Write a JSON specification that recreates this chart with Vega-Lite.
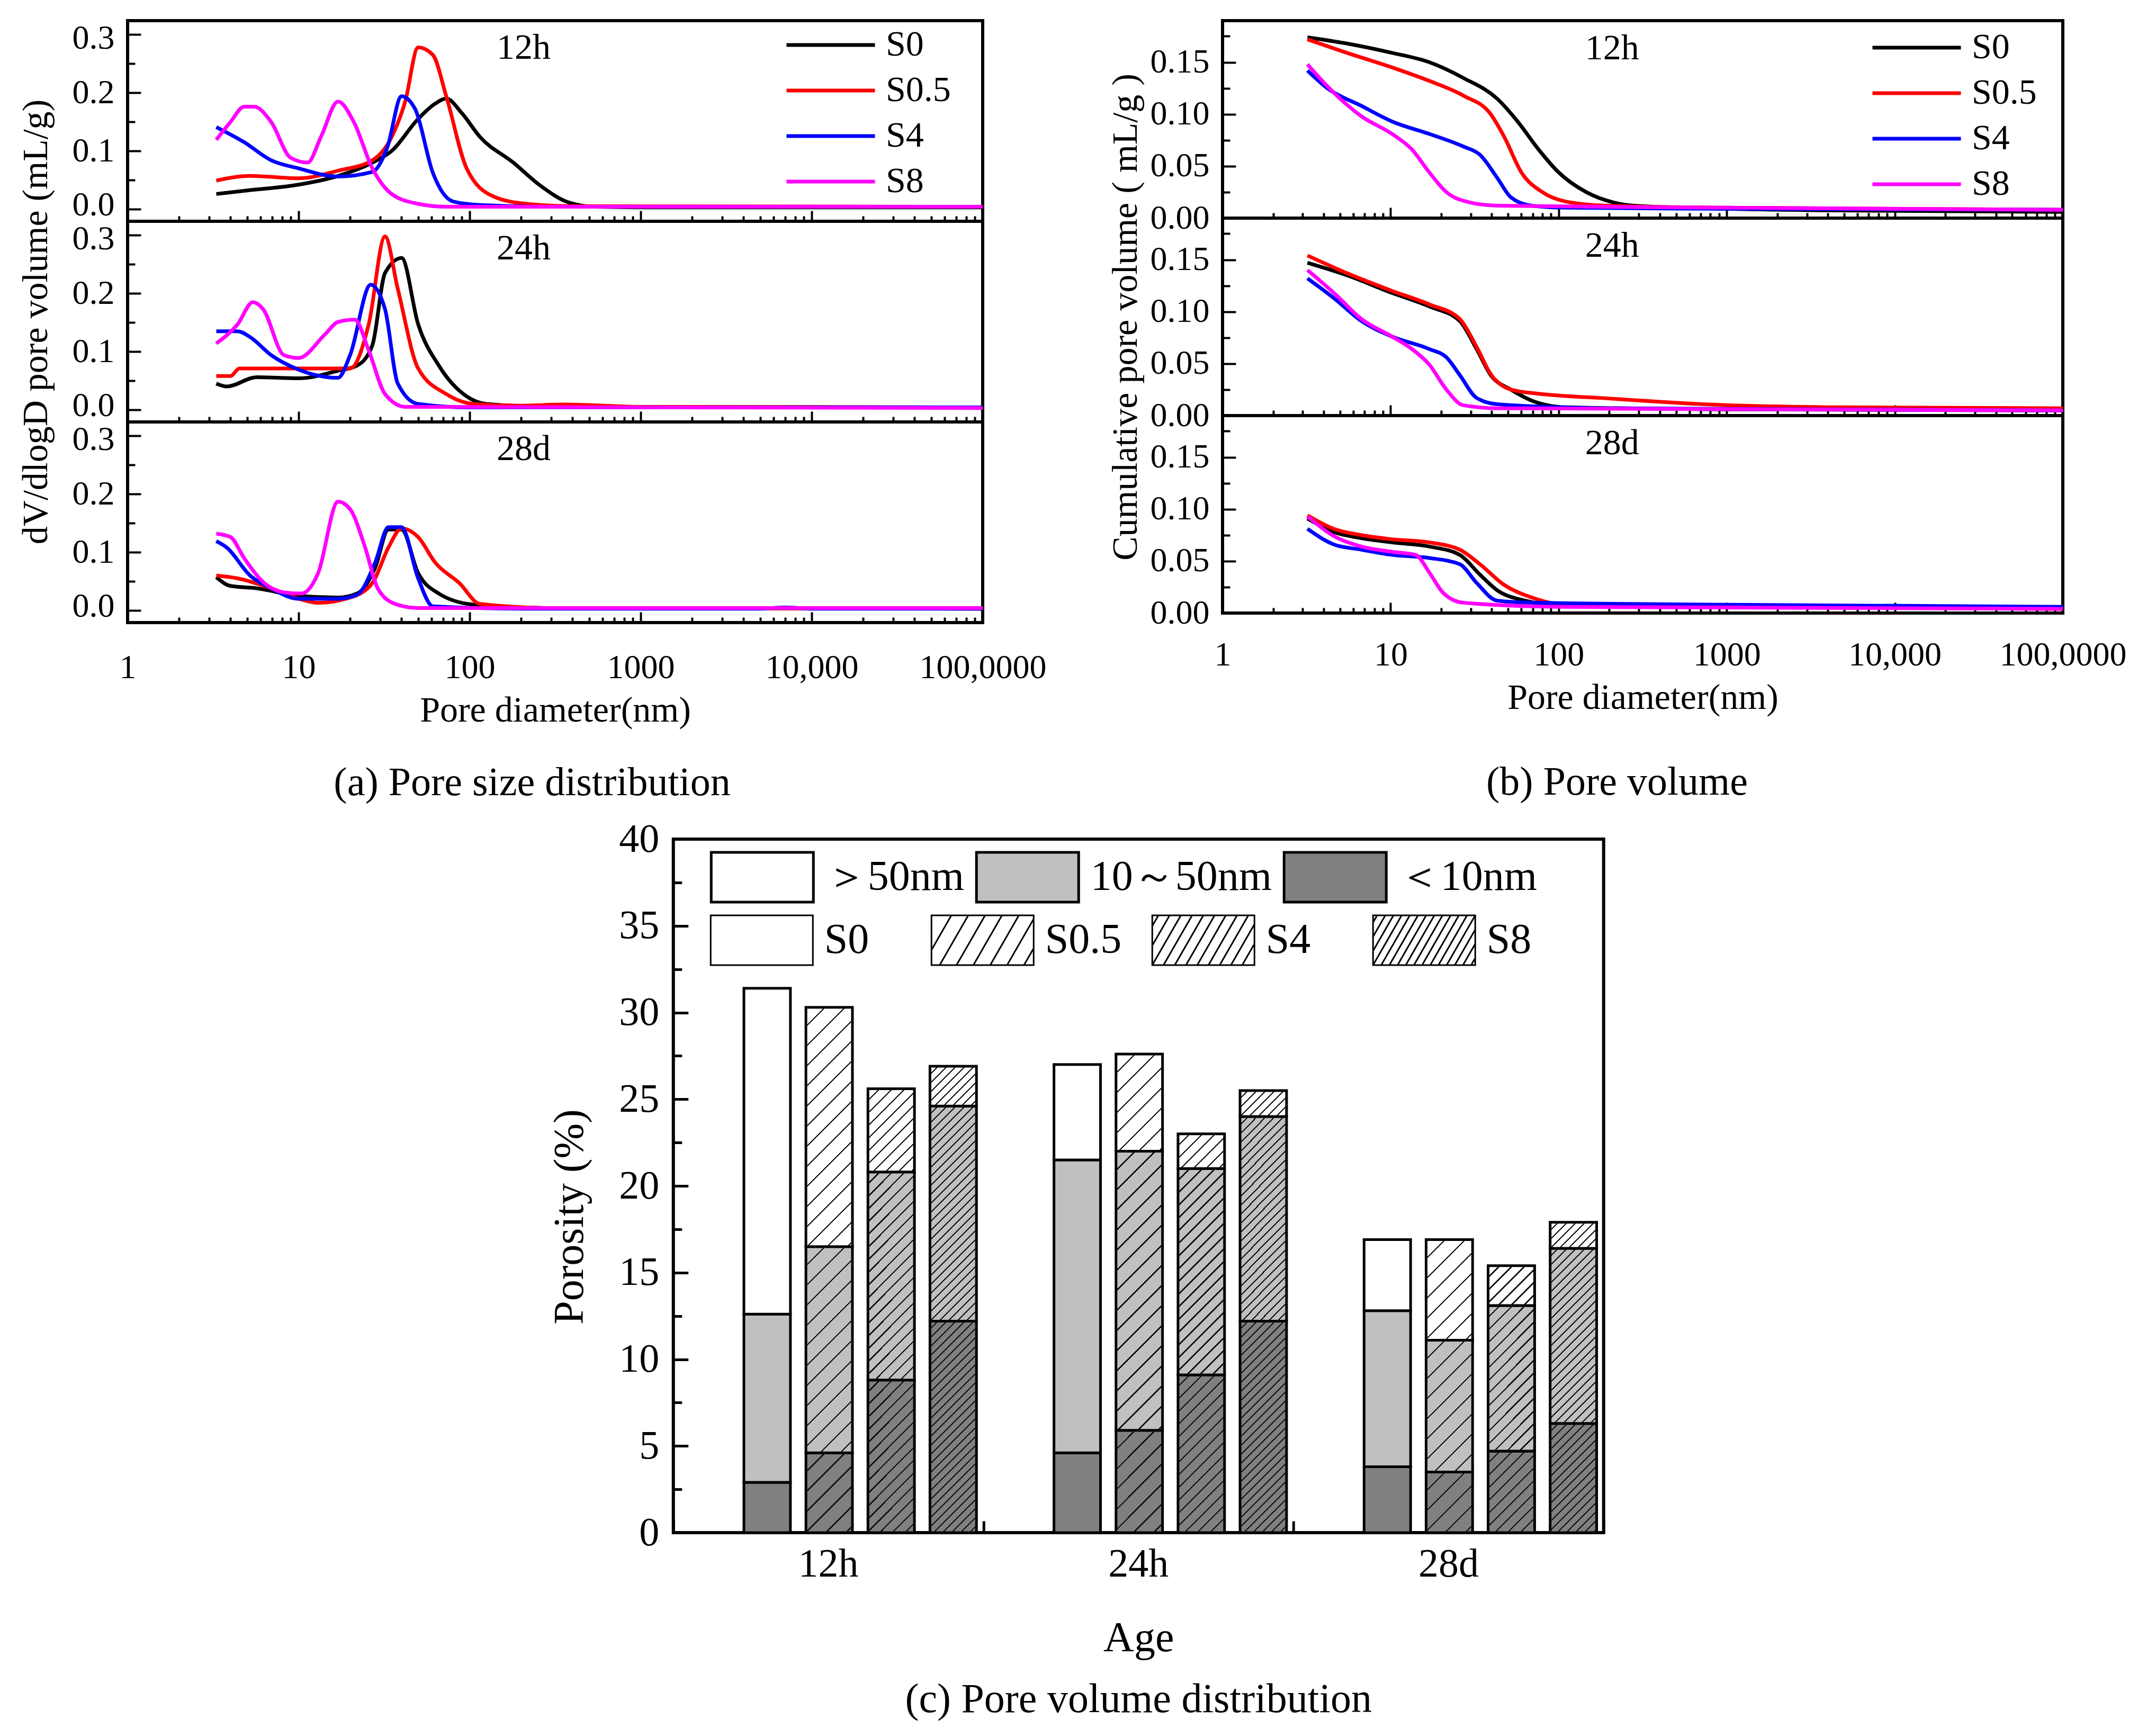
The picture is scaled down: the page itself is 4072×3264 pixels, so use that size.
{
  "$schema": "https://vega.github.io/schema/vega-lite/v6.json",
  "background": "white",
  "padding": {"left": 30, "top": 36, "right": 0, "bottom": 0},
  "config": {
    "font": "Liberation Serif",
    "view": {"stroke": "black", "strokeWidth": 6},
    "axis": {"domain": false, "grid": false, "labelFont": "Liberation Serif", "titleFont": "Liberation Serif", "labelColor": "black", "titleColor": "black", "titleFontWeight": "normal", "tickColor": "black", "tickWidth": 4, "labelFlush": false, "labelOverlap": false, "labelBound": false, "labelLimit": 1000, "titleLimit": 3000},
    "legend": {"labelFont": "Liberation Serif", "labelColor": "black", "labelLimit": 1000},
    "title": {"font": "Liberation Serif", "fontWeight": "normal", "color": "black", "anchor": "middle"}
  },
  "params": [
    {"name": "hatch05", "value": [
      {"offset": 0, "color": "rgba(0,0,0,0)"},
      {"offset": 0.0567, "color": "rgba(0,0,0,0)"}, {"offset": 0.0567, "color": "#111"}, {"offset": 0.0625, "color": "#111"}, {"offset": 0.0625, "color": "rgba(0,0,0,0)"},
      {"offset": 0.1192, "color": "rgba(0,0,0,0)"}, {"offset": 0.1192, "color": "#111"}, {"offset": 0.125, "color": "#111"}, {"offset": 0.125, "color": "rgba(0,0,0,0)"},
      {"offset": 0.1817, "color": "rgba(0,0,0,0)"}, {"offset": 0.1817, "color": "#111"}, {"offset": 0.1875, "color": "#111"}, {"offset": 0.1875, "color": "rgba(0,0,0,0)"},
      {"offset": 0.2442, "color": "rgba(0,0,0,0)"}, {"offset": 0.2442, "color": "#111"}, {"offset": 0.25, "color": "#111"}, {"offset": 0.25, "color": "rgba(0,0,0,0)"},
      {"offset": 0.3067, "color": "rgba(0,0,0,0)"}, {"offset": 0.3067, "color": "#111"}, {"offset": 0.3125, "color": "#111"}, {"offset": 0.3125, "color": "rgba(0,0,0,0)"},
      {"offset": 0.3692, "color": "rgba(0,0,0,0)"}, {"offset": 0.3692, "color": "#111"}, {"offset": 0.375, "color": "#111"}, {"offset": 0.375, "color": "rgba(0,0,0,0)"},
      {"offset": 0.4317, "color": "rgba(0,0,0,0)"}, {"offset": 0.4317, "color": "#111"}, {"offset": 0.4375, "color": "#111"}, {"offset": 0.4375, "color": "rgba(0,0,0,0)"},
      {"offset": 0.4942, "color": "rgba(0,0,0,0)"}, {"offset": 0.4942, "color": "#111"}, {"offset": 0.5, "color": "#111"}, {"offset": 0.5, "color": "rgba(0,0,0,0)"},
      {"offset": 0.5567, "color": "rgba(0,0,0,0)"}, {"offset": 0.5567, "color": "#111"}, {"offset": 0.5625, "color": "#111"}, {"offset": 0.5625, "color": "rgba(0,0,0,0)"},
      {"offset": 0.6192, "color": "rgba(0,0,0,0)"}, {"offset": 0.6192, "color": "#111"}, {"offset": 0.625, "color": "#111"}, {"offset": 0.625, "color": "rgba(0,0,0,0)"},
      {"offset": 0.6817, "color": "rgba(0,0,0,0)"}, {"offset": 0.6817, "color": "#111"}, {"offset": 0.6875, "color": "#111"}, {"offset": 0.6875, "color": "rgba(0,0,0,0)"},
      {"offset": 0.7442, "color": "rgba(0,0,0,0)"}, {"offset": 0.7442, "color": "#111"}, {"offset": 0.75, "color": "#111"}, {"offset": 0.75, "color": "rgba(0,0,0,0)"},
      {"offset": 0.8067, "color": "rgba(0,0,0,0)"}, {"offset": 0.8067, "color": "#111"}, {"offset": 0.8125, "color": "#111"}, {"offset": 0.8125, "color": "rgba(0,0,0,0)"},
      {"offset": 0.8692, "color": "rgba(0,0,0,0)"}, {"offset": 0.8692, "color": "#111"}, {"offset": 0.875, "color": "#111"}, {"offset": 0.875, "color": "rgba(0,0,0,0)"},
      {"offset": 0.9317, "color": "rgba(0,0,0,0)"}, {"offset": 0.9317, "color": "#111"}, {"offset": 0.9375, "color": "#111"}, {"offset": 0.9375, "color": "rgba(0,0,0,0)"},
      {"offset": 0.9942, "color": "rgba(0,0,0,0)"}, {"offset": 0.9942, "color": "#111"}, {"offset": 1, "color": "#111"}, {"offset": 1, "color": "rgba(0,0,0,0)"}
    ]},
    {"name": "hatch4", "value": [
      {"offset": 0, "color": "rgba(0,0,0,0)"},
      {"offset": 0.0389, "color": "rgba(0,0,0,0)"}, {"offset": 0.0389, "color": "#111"}, {"offset": 0.0455, "color": "#111"}, {"offset": 0.0455, "color": "rgba(0,0,0,0)"},
      {"offset": 0.0843, "color": "rgba(0,0,0,0)"}, {"offset": 0.0843, "color": "#111"}, {"offset": 0.0909, "color": "#111"}, {"offset": 0.0909, "color": "rgba(0,0,0,0)"},
      {"offset": 0.1298, "color": "rgba(0,0,0,0)"}, {"offset": 0.1298, "color": "#111"}, {"offset": 0.1364, "color": "#111"}, {"offset": 0.1364, "color": "rgba(0,0,0,0)"},
      {"offset": 0.1752, "color": "rgba(0,0,0,0)"}, {"offset": 0.1752, "color": "#111"}, {"offset": 0.1818, "color": "#111"}, {"offset": 0.1818, "color": "rgba(0,0,0,0)"},
      {"offset": 0.2207, "color": "rgba(0,0,0,0)"}, {"offset": 0.2207, "color": "#111"}, {"offset": 0.2273, "color": "#111"}, {"offset": 0.2273, "color": "rgba(0,0,0,0)"},
      {"offset": 0.2661, "color": "rgba(0,0,0,0)"}, {"offset": 0.2661, "color": "#111"}, {"offset": 0.2727, "color": "#111"}, {"offset": 0.2727, "color": "rgba(0,0,0,0)"},
      {"offset": 0.3116, "color": "rgba(0,0,0,0)"}, {"offset": 0.3116, "color": "#111"}, {"offset": 0.3182, "color": "#111"}, {"offset": 0.3182, "color": "rgba(0,0,0,0)"},
      {"offset": 0.357, "color": "rgba(0,0,0,0)"}, {"offset": 0.357, "color": "#111"}, {"offset": 0.3636, "color": "#111"}, {"offset": 0.3636, "color": "rgba(0,0,0,0)"},
      {"offset": 0.4025, "color": "rgba(0,0,0,0)"}, {"offset": 0.4025, "color": "#111"}, {"offset": 0.4091, "color": "#111"}, {"offset": 0.4091, "color": "rgba(0,0,0,0)"},
      {"offset": 0.4479, "color": "rgba(0,0,0,0)"}, {"offset": 0.4479, "color": "#111"}, {"offset": 0.4545, "color": "#111"}, {"offset": 0.4545, "color": "rgba(0,0,0,0)"},
      {"offset": 0.4934, "color": "rgba(0,0,0,0)"}, {"offset": 0.4934, "color": "#111"}, {"offset": 0.5, "color": "#111"}, {"offset": 0.5, "color": "rgba(0,0,0,0)"},
      {"offset": 0.5389, "color": "rgba(0,0,0,0)"}, {"offset": 0.5389, "color": "#111"}, {"offset": 0.5455, "color": "#111"}, {"offset": 0.5455, "color": "rgba(0,0,0,0)"},
      {"offset": 0.5843, "color": "rgba(0,0,0,0)"}, {"offset": 0.5843, "color": "#111"}, {"offset": 0.5909, "color": "#111"}, {"offset": 0.5909, "color": "rgba(0,0,0,0)"},
      {"offset": 0.6298, "color": "rgba(0,0,0,0)"}, {"offset": 0.6298, "color": "#111"}, {"offset": 0.6364, "color": "#111"}, {"offset": 0.6364, "color": "rgba(0,0,0,0)"},
      {"offset": 0.6752, "color": "rgba(0,0,0,0)"}, {"offset": 0.6752, "color": "#111"}, {"offset": 0.6818, "color": "#111"}, {"offset": 0.6818, "color": "rgba(0,0,0,0)"},
      {"offset": 0.7207, "color": "rgba(0,0,0,0)"}, {"offset": 0.7207, "color": "#111"}, {"offset": 0.7273, "color": "#111"}, {"offset": 0.7273, "color": "rgba(0,0,0,0)"},
      {"offset": 0.7661, "color": "rgba(0,0,0,0)"}, {"offset": 0.7661, "color": "#111"}, {"offset": 0.7727, "color": "#111"}, {"offset": 0.7727, "color": "rgba(0,0,0,0)"},
      {"offset": 0.8116, "color": "rgba(0,0,0,0)"}, {"offset": 0.8116, "color": "#111"}, {"offset": 0.8182, "color": "#111"}, {"offset": 0.8182, "color": "rgba(0,0,0,0)"},
      {"offset": 0.857, "color": "rgba(0,0,0,0)"}, {"offset": 0.857, "color": "#111"}, {"offset": 0.8636, "color": "#111"}, {"offset": 0.8636, "color": "rgba(0,0,0,0)"},
      {"offset": 0.9025, "color": "rgba(0,0,0,0)"}, {"offset": 0.9025, "color": "#111"}, {"offset": 0.9091, "color": "#111"}, {"offset": 0.9091, "color": "rgba(0,0,0,0)"},
      {"offset": 0.9479, "color": "rgba(0,0,0,0)"}, {"offset": 0.9479, "color": "#111"}, {"offset": 0.9545, "color": "#111"}, {"offset": 0.9545, "color": "rgba(0,0,0,0)"},
      {"offset": 0.9934, "color": "rgba(0,0,0,0)"}, {"offset": 0.9934, "color": "#111"}, {"offset": 1, "color": "#111"}, {"offset": 1, "color": "rgba(0,0,0,0)"}
    ]},
    {"name": "hatch8", "value": [
      {"offset": 0, "color": "rgba(0,0,0,0)"},
      {"offset": 0.0266, "color": "rgba(0,0,0,0)"}, {"offset": 0.0266, "color": "#111"}, {"offset": 0.0323, "color": "#111"}, {"offset": 0.0323, "color": "rgba(0,0,0,0)"},
      {"offset": 0.0588, "color": "rgba(0,0,0,0)"}, {"offset": 0.0588, "color": "#111"}, {"offset": 0.0645, "color": "#111"}, {"offset": 0.0645, "color": "rgba(0,0,0,0)"},
      {"offset": 0.0911, "color": "rgba(0,0,0,0)"}, {"offset": 0.0911, "color": "#111"}, {"offset": 0.0968, "color": "#111"}, {"offset": 0.0968, "color": "rgba(0,0,0,0)"},
      {"offset": 0.1233, "color": "rgba(0,0,0,0)"}, {"offset": 0.1233, "color": "#111"}, {"offset": 0.129, "color": "#111"}, {"offset": 0.129, "color": "rgba(0,0,0,0)"},
      {"offset": 0.1556, "color": "rgba(0,0,0,0)"}, {"offset": 0.1556, "color": "#111"}, {"offset": 0.1613, "color": "#111"}, {"offset": 0.1613, "color": "rgba(0,0,0,0)"},
      {"offset": 0.1878, "color": "rgba(0,0,0,0)"}, {"offset": 0.1878, "color": "#111"}, {"offset": 0.1935, "color": "#111"}, {"offset": 0.1935, "color": "rgba(0,0,0,0)"},
      {"offset": 0.2201, "color": "rgba(0,0,0,0)"}, {"offset": 0.2201, "color": "#111"}, {"offset": 0.2258, "color": "#111"}, {"offset": 0.2258, "color": "rgba(0,0,0,0)"},
      {"offset": 0.2524, "color": "rgba(0,0,0,0)"}, {"offset": 0.2524, "color": "#111"}, {"offset": 0.2581, "color": "#111"}, {"offset": 0.2581, "color": "rgba(0,0,0,0)"},
      {"offset": 0.2846, "color": "rgba(0,0,0,0)"}, {"offset": 0.2846, "color": "#111"}, {"offset": 0.2903, "color": "#111"}, {"offset": 0.2903, "color": "rgba(0,0,0,0)"},
      {"offset": 0.3169, "color": "rgba(0,0,0,0)"}, {"offset": 0.3169, "color": "#111"}, {"offset": 0.3226, "color": "#111"}, {"offset": 0.3226, "color": "rgba(0,0,0,0)"},
      {"offset": 0.3491, "color": "rgba(0,0,0,0)"}, {"offset": 0.3491, "color": "#111"}, {"offset": 0.3548, "color": "#111"}, {"offset": 0.3548, "color": "rgba(0,0,0,0)"},
      {"offset": 0.3814, "color": "rgba(0,0,0,0)"}, {"offset": 0.3814, "color": "#111"}, {"offset": 0.3871, "color": "#111"}, {"offset": 0.3871, "color": "rgba(0,0,0,0)"},
      {"offset": 0.4137, "color": "rgba(0,0,0,0)"}, {"offset": 0.4137, "color": "#111"}, {"offset": 0.4194, "color": "#111"}, {"offset": 0.4194, "color": "rgba(0,0,0,0)"},
      {"offset": 0.4459, "color": "rgba(0,0,0,0)"}, {"offset": 0.4459, "color": "#111"}, {"offset": 0.4516, "color": "#111"}, {"offset": 0.4516, "color": "rgba(0,0,0,0)"},
      {"offset": 0.4782, "color": "rgba(0,0,0,0)"}, {"offset": 0.4782, "color": "#111"}, {"offset": 0.4839, "color": "#111"}, {"offset": 0.4839, "color": "rgba(0,0,0,0)"},
      {"offset": 0.5104, "color": "rgba(0,0,0,0)"}, {"offset": 0.5104, "color": "#111"}, {"offset": 0.5161, "color": "#111"}, {"offset": 0.5161, "color": "rgba(0,0,0,0)"},
      {"offset": 0.5427, "color": "rgba(0,0,0,0)"}, {"offset": 0.5427, "color": "#111"}, {"offset": 0.5484, "color": "#111"}, {"offset": 0.5484, "color": "rgba(0,0,0,0)"},
      {"offset": 0.5749, "color": "rgba(0,0,0,0)"}, {"offset": 0.5749, "color": "#111"}, {"offset": 0.5806, "color": "#111"}, {"offset": 0.5806, "color": "rgba(0,0,0,0)"},
      {"offset": 0.6072, "color": "rgba(0,0,0,0)"}, {"offset": 0.6072, "color": "#111"}, {"offset": 0.6129, "color": "#111"}, {"offset": 0.6129, "color": "rgba(0,0,0,0)"},
      {"offset": 0.6395, "color": "rgba(0,0,0,0)"}, {"offset": 0.6395, "color": "#111"}, {"offset": 0.6452, "color": "#111"}, {"offset": 0.6452, "color": "rgba(0,0,0,0)"},
      {"offset": 0.6717, "color": "rgba(0,0,0,0)"}, {"offset": 0.6717, "color": "#111"}, {"offset": 0.6774, "color": "#111"}, {"offset": 0.6774, "color": "rgba(0,0,0,0)"},
      {"offset": 0.704, "color": "rgba(0,0,0,0)"}, {"offset": 0.704, "color": "#111"}, {"offset": 0.7097, "color": "#111"}, {"offset": 0.7097, "color": "rgba(0,0,0,0)"},
      {"offset": 0.7362, "color": "rgba(0,0,0,0)"}, {"offset": 0.7362, "color": "#111"}, {"offset": 0.7419, "color": "#111"}, {"offset": 0.7419, "color": "rgba(0,0,0,0)"},
      {"offset": 0.7685, "color": "rgba(0,0,0,0)"}, {"offset": 0.7685, "color": "#111"}, {"offset": 0.7742, "color": "#111"}, {"offset": 0.7742, "color": "rgba(0,0,0,0)"},
      {"offset": 0.8008, "color": "rgba(0,0,0,0)"}, {"offset": 0.8008, "color": "#111"}, {"offset": 0.8065, "color": "#111"}, {"offset": 0.8065, "color": "rgba(0,0,0,0)"},
      {"offset": 0.833, "color": "rgba(0,0,0,0)"}, {"offset": 0.833, "color": "#111"}, {"offset": 0.8387, "color": "#111"}, {"offset": 0.8387, "color": "rgba(0,0,0,0)"},
      {"offset": 0.8653, "color": "rgba(0,0,0,0)"}, {"offset": 0.8653, "color": "#111"}, {"offset": 0.871, "color": "#111"}, {"offset": 0.871, "color": "rgba(0,0,0,0)"},
      {"offset": 0.8975, "color": "rgba(0,0,0,0)"}, {"offset": 0.8975, "color": "#111"}, {"offset": 0.9032, "color": "#111"}, {"offset": 0.9032, "color": "rgba(0,0,0,0)"},
      {"offset": 0.9298, "color": "rgba(0,0,0,0)"}, {"offset": 0.9298, "color": "#111"}, {"offset": 0.9355, "color": "#111"}, {"offset": 0.9355, "color": "rgba(0,0,0,0)"},
      {"offset": 0.962, "color": "rgba(0,0,0,0)"}, {"offset": 0.962, "color": "#111"}, {"offset": 0.9677, "color": "#111"}, {"offset": 0.9677, "color": "rgba(0,0,0,0)"},
      {"offset": 0.9943, "color": "rgba(0,0,0,0)"}, {"offset": 0.9943, "color": "#111"}, {"offset": 1, "color": "#111"}, {"offset": 1, "color": "rgba(0,0,0,0)"}
    ]}
  ],
  "datasets": {
    "psd": [
      {"age": "12h", "sample": "S0", "d": 3.3, "v": 0.026}, {"age": "12h", "sample": "S0", "d": 5, "v": 0.032}, {"age": "12h", "sample": "S0", "d": 10, "v": 0.042}, {"age": "12h", "sample": "S0", "d": 17, "v": 0.057}, {"age": "12h", "sample": "S0", "d": 27, "v": 0.08}, {"age": "12h", "sample": "S0", "d": 35, "v": 0.1}, {"age": "12h", "sample": "S0", "d": 50, "v": 0.155}, {"age": "12h", "sample": "S0", "d": 62, "v": 0.18}, {"age": "12h", "sample": "S0", "d": 73, "v": 0.19}, {"age": "12h", "sample": "S0", "d": 90, "v": 0.165}, {"age": "12h", "sample": "S0", "d": 115, "v": 0.124}, {"age": "12h", "sample": "S0", "d": 180, "v": 0.08}, {"age": "12h", "sample": "S0", "d": 260, "v": 0.04}, {"age": "12h", "sample": "S0", "d": 375, "v": 0.012}, {"age": "12h", "sample": "S0", "d": 540, "v": 0.004}, {"age": "12h", "sample": "S0", "d": 1000, "v": 0.003}, {"age": "12h", "sample": "S0", "d": 100000, "v": 0.003},
      {"age": "12h", "sample": "S0.5", "d": 3.3, "v": 0.049}, {"age": "12h", "sample": "S0.5", "d": 5.2, "v": 0.057}, {"age": "12h", "sample": "S0.5", "d": 10, "v": 0.053}, {"age": "12h", "sample": "S0.5", "d": 17, "v": 0.066}, {"age": "12h", "sample": "S0.5", "d": 27, "v": 0.084}, {"age": "12h", "sample": "S0.5", "d": 35, "v": 0.124}, {"age": "12h", "sample": "S0.5", "d": 42, "v": 0.185}, {"age": "12h", "sample": "S0.5", "d": 50, "v": 0.278}, {"age": "12h", "sample": "S0.5", "d": 61, "v": 0.265}, {"age": "12h", "sample": "S0.5", "d": 73, "v": 0.194}, {"age": "12h", "sample": "S0.5", "d": 96, "v": 0.07}, {"age": "12h", "sample": "S0.5", "d": 137, "v": 0.022}, {"age": "12h", "sample": "S0.5", "d": 215, "v": 0.009}, {"age": "12h", "sample": "S0.5", "d": 400, "v": 0.005}, {"age": "12h", "sample": "S0.5", "d": 100000, "v": 0.004},
      {"age": "12h", "sample": "S4", "d": 3.3, "v": 0.141}, {"age": "12h", "sample": "S4", "d": 4.8, "v": 0.115}, {"age": "12h", "sample": "S4", "d": 6.9, "v": 0.084}, {"age": "12h", "sample": "S4", "d": 10, "v": 0.07}, {"age": "12h", "sample": "S4", "d": 17, "v": 0.056}, {"age": "12h", "sample": "S4", "d": 27, "v": 0.064}, {"age": "12h", "sample": "S4", "d": 33, "v": 0.106}, {"age": "12h", "sample": "S4", "d": 40, "v": 0.194}, {"age": "12h", "sample": "S4", "d": 48, "v": 0.172}, {"age": "12h", "sample": "S4", "d": 61, "v": 0.062}, {"age": "12h", "sample": "S4", "d": 80, "v": 0.013}, {"age": "12h", "sample": "S4", "d": 115, "v": 0.007}, {"age": "12h", "sample": "S4", "d": 300, "v": 0.004}, {"age": "12h", "sample": "S4", "d": 100000, "v": 0.004},
      {"age": "12h", "sample": "S8", "d": 3.3, "v": 0.119}, {"age": "12h", "sample": "S8", "d": 4, "v": 0.15}, {"age": "12h", "sample": "S8", "d": 4.8, "v": 0.176}, {"age": "12h", "sample": "S8", "d": 5.5, "v": 0.176}, {"age": "12h", "sample": "S8", "d": 6.9, "v": 0.15}, {"age": "12h", "sample": "S8", "d": 9, "v": 0.088}, {"age": "12h", "sample": "S8", "d": 11.3, "v": 0.08}, {"age": "12h", "sample": "S8", "d": 13.5, "v": 0.124}, {"age": "12h", "sample": "S8", "d": 17, "v": 0.185}, {"age": "12h", "sample": "S8", "d": 21, "v": 0.15}, {"age": "12h", "sample": "S8", "d": 27, "v": 0.07}, {"age": "12h", "sample": "S8", "d": 35, "v": 0.026}, {"age": "12h", "sample": "S8", "d": 50, "v": 0.009}, {"age": "12h", "sample": "S8", "d": 73, "v": 0.004}, {"age": "12h", "sample": "S8", "d": 100000, "v": 0.004},
      {"age": "24h", "sample": "S0", "d": 3.3, "v": 0.045}, {"age": "24h", "sample": "S0", "d": 3.8, "v": 0.04}, {"age": "24h", "sample": "S0", "d": 5.7, "v": 0.056}, {"age": "24h", "sample": "S0", "d": 10, "v": 0.054}, {"age": "24h", "sample": "S0", "d": 17, "v": 0.067}, {"age": "24h", "sample": "S0", "d": 22, "v": 0.076}, {"age": "24h", "sample": "S0", "d": 27, "v": 0.111}, {"age": "24h", "sample": "S0", "d": 32, "v": 0.235}, {"age": "24h", "sample": "S0", "d": 40, "v": 0.261}, {"age": "24h", "sample": "S0", "d": 50, "v": 0.147}, {"age": "24h", "sample": "S0", "d": 66, "v": 0.076}, {"age": "24h", "sample": "S0", "d": 96, "v": 0.023}, {"age": "24h", "sample": "S0", "d": 125, "v": 0.01}, {"age": "24h", "sample": "S0", "d": 300, "v": 0.005}, {"age": "24h", "sample": "S0", "d": 100000, "v": 0.004},
      {"age": "24h", "sample": "S0.5", "d": 3.3, "v": 0.058}, {"age": "24h", "sample": "S0.5", "d": 4, "v": 0.058}, {"age": "24h", "sample": "S0.5", "d": 4.5, "v": 0.071}, {"age": "24h", "sample": "S0.5", "d": 10, "v": 0.071}, {"age": "24h", "sample": "S0.5", "d": 20, "v": 0.071}, {"age": "24h", "sample": "S0.5", "d": 25.7, "v": 0.147}, {"age": "24h", "sample": "S0.5", "d": 32, "v": 0.298}, {"age": "24h", "sample": "S0.5", "d": 38, "v": 0.208}, {"age": "24h", "sample": "S0.5", "d": 50, "v": 0.071}, {"age": "24h", "sample": "S0.5", "d": 73, "v": 0.027}, {"age": "24h", "sample": "S0.5", "d": 105, "v": 0.01}, {"age": "24h", "sample": "S0.5", "d": 200, "v": 0.007}, {"age": "24h", "sample": "S0.5", "d": 350, "v": 0.009}, {"age": "24h", "sample": "S0.5", "d": 600, "v": 0.007}, {"age": "24h", "sample": "S0.5", "d": 1000, "v": 0.005}, {"age": "24h", "sample": "S0.5", "d": 100000, "v": 0.004},
      {"age": "24h", "sample": "S4", "d": 3.3, "v": 0.135}, {"age": "24h", "sample": "S4", "d": 4.4, "v": 0.135}, {"age": "24h", "sample": "S4", "d": 5.2, "v": 0.125}, {"age": "24h", "sample": "S4", "d": 6.9, "v": 0.094}, {"age": "24h", "sample": "S4", "d": 10, "v": 0.069}, {"age": "24h", "sample": "S4", "d": 17, "v": 0.055}, {"age": "24h", "sample": "S4", "d": 20, "v": 0.094}, {"age": "24h", "sample": "S4", "d": 26.4, "v": 0.215}, {"age": "24h", "sample": "S4", "d": 32, "v": 0.173}, {"age": "24h", "sample": "S4", "d": 38, "v": 0.045}, {"age": "24h", "sample": "S4", "d": 50, "v": 0.01}, {"age": "24h", "sample": "S4", "d": 100, "v": 0.004}, {"age": "24h", "sample": "S4", "d": 100000, "v": 0.004},
      {"age": "24h", "sample": "S8", "d": 3.3, "v": 0.114}, {"age": "24h", "sample": "S8", "d": 4.4, "v": 0.147}, {"age": "24h", "sample": "S8", "d": 5.4, "v": 0.185}, {"age": "24h", "sample": "S8", "d": 6.2, "v": 0.173}, {"age": "24h", "sample": "S8", "d": 8.2, "v": 0.094}, {"age": "24h", "sample": "S8", "d": 10, "v": 0.089}, {"age": "24h", "sample": "S8", "d": 14.2, "v": 0.129}, {"age": "24h", "sample": "S8", "d": 17, "v": 0.151}, {"age": "24h", "sample": "S8", "d": 21.3, "v": 0.155}, {"age": "24h", "sample": "S8", "d": 25.7, "v": 0.102}, {"age": "24h", "sample": "S8", "d": 32, "v": 0.027}, {"age": "24h", "sample": "S8", "d": 42, "v": 0.005}, {"age": "24h", "sample": "S8", "d": 100000, "v": 0.003},
      {"age": "28d", "sample": "S0", "d": 3.3, "v": 0.057}, {"age": "28d", "sample": "S0", "d": 4, "v": 0.042}, {"age": "28d", "sample": "S0", "d": 5.7, "v": 0.038}, {"age": "28d", "sample": "S0", "d": 10, "v": 0.025}, {"age": "28d", "sample": "S0", "d": 17, "v": 0.022}, {"age": "28d", "sample": "S0", "d": 22, "v": 0.029}, {"age": "28d", "sample": "S0", "d": 28, "v": 0.073}, {"age": "28d", "sample": "S0", "d": 33.5, "v": 0.139}, {"age": "28d", "sample": "S0", "d": 40, "v": 0.139}, {"age": "28d", "sample": "S0", "d": 50, "v": 0.064}, {"age": "28d", "sample": "S0", "d": 66, "v": 0.029}, {"age": "28d", "sample": "S0", "d": 105, "v": 0.01}, {"age": "28d", "sample": "S0", "d": 300, "v": 0.004}, {"age": "28d", "sample": "S0", "d": 100000, "v": 0.003},
      {"age": "28d", "sample": "S0.5", "d": 3.3, "v": 0.06}, {"age": "28d", "sample": "S0.5", "d": 4.4, "v": 0.055}, {"age": "28d", "sample": "S0.5", "d": 6.9, "v": 0.038}, {"age": "28d", "sample": "S0.5", "d": 10, "v": 0.02}, {"age": "28d", "sample": "S0.5", "d": 13, "v": 0.013}, {"age": "28d", "sample": "S0.5", "d": 20, "v": 0.022}, {"age": "28d", "sample": "S0.5", "d": 27, "v": 0.047}, {"age": "28d", "sample": "S0.5", "d": 33.5, "v": 0.108}, {"age": "28d", "sample": "S0.5", "d": 40, "v": 0.141}, {"age": "28d", "sample": "S0.5", "d": 50, "v": 0.126}, {"age": "28d", "sample": "S0.5", "d": 63, "v": 0.082}, {"age": "28d", "sample": "S0.5", "d": 87, "v": 0.047}, {"age": "28d", "sample": "S0.5", "d": 115, "v": 0.011}, {"age": "28d", "sample": "S0.5", "d": 300, "v": 0.004}, {"age": "28d", "sample": "S0.5", "d": 100000, "v": 0.003},
      {"age": "28d", "sample": "S4", "d": 3.3, "v": 0.119}, {"age": "28d", "sample": "S4", "d": 3.8, "v": 0.108}, {"age": "28d", "sample": "S4", "d": 5.2, "v": 0.06}, {"age": "28d", "sample": "S4", "d": 6.9, "v": 0.038}, {"age": "28d", "sample": "S4", "d": 10, "v": 0.02}, {"age": "28d", "sample": "S4", "d": 17, "v": 0.02}, {"age": "28d", "sample": "S4", "d": 22, "v": 0.027}, {"age": "28d", "sample": "S4", "d": 28, "v": 0.082}, {"age": "28d", "sample": "S4", "d": 33.5, "v": 0.143}, {"age": "28d", "sample": "S4", "d": 40, "v": 0.143}, {"age": "28d", "sample": "S4", "d": 50, "v": 0.055}, {"age": "28d", "sample": "S4", "d": 61, "v": 0.007}, {"age": "28d", "sample": "S4", "d": 200, "v": 0.003}, {"age": "28d", "sample": "S4", "d": 5000, "v": 0.003}, {"age": "28d", "sample": "S4", "d": 7000, "v": 0.005}, {"age": "28d", "sample": "S4", "d": 10000, "v": 0.003}, {"age": "28d", "sample": "S4", "d": 100000, "v": 0.003},
      {"age": "28d", "sample": "S8", "d": 3.3, "v": 0.132}, {"age": "28d", "sample": "S8", "d": 4, "v": 0.126}, {"age": "28d", "sample": "S8", "d": 4.8, "v": 0.09}, {"age": "28d", "sample": "S8", "d": 6.3, "v": 0.047}, {"age": "28d", "sample": "S8", "d": 8.2, "v": 0.031}, {"age": "28d", "sample": "S8", "d": 10.4, "v": 0.029}, {"age": "28d", "sample": "S8", "d": 13, "v": 0.064}, {"age": "28d", "sample": "S8", "d": 17, "v": 0.187}, {"age": "28d", "sample": "S8", "d": 20, "v": 0.174}, {"age": "28d", "sample": "S8", "d": 24.5, "v": 0.108}, {"age": "28d", "sample": "S8", "d": 29, "v": 0.038}, {"age": "28d", "sample": "S8", "d": 36.8, "v": 0.011}, {"age": "28d", "sample": "S8", "d": 50, "v": 0.004}, {"age": "28d", "sample": "S8", "d": 100000, "v": 0.004}
    ],
    "cum": [
      {"age": "12h", "sample": "S0", "d": 3.2, "v": 0.174}, {"age": "12h", "sample": "S0", "d": 5.5, "v": 0.168}, {"age": "12h", "sample": "S0", "d": 10.2, "v": 0.159}, {"age": "12h", "sample": "S0", "d": 17, "v": 0.15}, {"age": "12h", "sample": "S0", "d": 27, "v": 0.135}, {"age": "12h", "sample": "S0", "d": 43, "v": 0.115}, {"age": "12h", "sample": "S0", "d": 57, "v": 0.093}, {"age": "12h", "sample": "S0", "d": 76, "v": 0.066}, {"age": "12h", "sample": "S0", "d": 100, "v": 0.044}, {"age": "12h", "sample": "S0", "d": 146, "v": 0.025}, {"age": "12h", "sample": "S0", "d": 213, "v": 0.015}, {"age": "12h", "sample": "S0", "d": 282, "v": 0.012}, {"age": "12h", "sample": "S0", "d": 1000, "v": 0.009}, {"age": "12h", "sample": "S0", "d": 10000, "v": 0.007}, {"age": "12h", "sample": "S0", "d": 100000, "v": 0.006},
      {"age": "12h", "sample": "S0.5", "d": 3.2, "v": 0.172}, {"age": "12h", "sample": "S0.5", "d": 5.5, "v": 0.159}, {"age": "12h", "sample": "S0.5", "d": 10.2, "v": 0.145}, {"age": "12h", "sample": "S0.5", "d": 17, "v": 0.132}, {"age": "12h", "sample": "S0.5", "d": 27, "v": 0.118}, {"age": "12h", "sample": "S0.5", "d": 39.4, "v": 0.1}, {"age": "12h", "sample": "S0.5", "d": 47.5, "v": 0.078}, {"age": "12h", "sample": "S0.5", "d": 60, "v": 0.044}, {"age": "12h", "sample": "S0.5", "d": 80, "v": 0.025}, {"age": "12h", "sample": "S0.5", "d": 110, "v": 0.016}, {"age": "12h", "sample": "S0.5", "d": 193, "v": 0.012}, {"age": "12h", "sample": "S0.5", "d": 1000, "v": 0.01}, {"age": "12h", "sample": "S0.5", "d": 100000, "v": 0.008},
      {"age": "12h", "sample": "S4", "d": 3.2, "v": 0.142}, {"age": "12h", "sample": "S4", "d": 4.2, "v": 0.125}, {"age": "12h", "sample": "S4", "d": 6.7, "v": 0.108}, {"age": "12h", "sample": "S4", "d": 10.2, "v": 0.093}, {"age": "12h", "sample": "S4", "d": 17, "v": 0.081}, {"age": "12h", "sample": "S4", "d": 27, "v": 0.069}, {"age": "12h", "sample": "S4", "d": 34, "v": 0.061}, {"age": "12h", "sample": "S4", "d": 43, "v": 0.039}, {"age": "12h", "sample": "S4", "d": 52, "v": 0.02}, {"age": "12h", "sample": "S4", "d": 69, "v": 0.012}, {"age": "12h", "sample": "S4", "d": 110, "v": 0.01}, {"age": "12h", "sample": "S4", "d": 1000, "v": 0.009}, {"age": "12h", "sample": "S4", "d": 100000, "v": 0.008},
      {"age": "12h", "sample": "S8", "d": 3.2, "v": 0.148}, {"age": "12h", "sample": "S8", "d": 4.2, "v": 0.127}, {"age": "12h", "sample": "S8", "d": 6.7, "v": 0.098}, {"age": "12h", "sample": "S8", "d": 10.2, "v": 0.081}, {"age": "12h", "sample": "S8", "d": 13.4, "v": 0.066}, {"age": "12h", "sample": "S8", "d": 17, "v": 0.044}, {"age": "12h", "sample": "S8", "d": 21.5, "v": 0.025}, {"age": "12h", "sample": "S8", "d": 29.8, "v": 0.015}, {"age": "12h", "sample": "S8", "d": 43, "v": 0.012}, {"age": "12h", "sample": "S8", "d": 1000, "v": 0.01}, {"age": "12h", "sample": "S8", "d": 100000, "v": 0.008},
      {"age": "24h", "sample": "S0", "d": 3.2, "v": 0.147}, {"age": "24h", "sample": "S0", "d": 5.5, "v": 0.135}, {"age": "24h", "sample": "S0", "d": 10.2, "v": 0.118}, {"age": "24h", "sample": "S0", "d": 17, "v": 0.105}, {"age": "24h", "sample": "S0", "d": 25.8, "v": 0.091}, {"age": "24h", "sample": "S0", "d": 32.5, "v": 0.064}, {"age": "24h", "sample": "S0", "d": 39.4, "v": 0.039}, {"age": "24h", "sample": "S0", "d": 52, "v": 0.025}, {"age": "24h", "sample": "S0", "d": 76, "v": 0.012}, {"age": "24h", "sample": "S0", "d": 110, "v": 0.008}, {"age": "24h", "sample": "S0", "d": 1000, "v": 0.006}, {"age": "24h", "sample": "S0", "d": 100000, "v": 0.005},
      {"age": "24h", "sample": "S0.5", "d": 3.2, "v": 0.154}, {"age": "24h", "sample": "S0.5", "d": 5.5, "v": 0.137}, {"age": "24h", "sample": "S0.5", "d": 10.2, "v": 0.12}, {"age": "24h", "sample": "S0.5", "d": 17, "v": 0.107}, {"age": "24h", "sample": "S0.5", "d": 25.8, "v": 0.093}, {"age": "24h", "sample": "S0.5", "d": 32.5, "v": 0.066}, {"age": "24h", "sample": "S0.5", "d": 39.4, "v": 0.04}, {"age": "24h", "sample": "S0.5", "d": 52, "v": 0.025}, {"age": "24h", "sample": "S0.5", "d": 76, "v": 0.021}, {"age": "24h", "sample": "S0.5", "d": 176, "v": 0.017}, {"age": "24h", "sample": "S0.5", "d": 717, "v": 0.011}, {"age": "24h", "sample": "S0.5", "d": 4600, "v": 0.008}, {"age": "24h", "sample": "S0.5", "d": 100000, "v": 0.007},
      {"age": "24h", "sample": "S4", "d": 3.2, "v": 0.132}, {"age": "24h", "sample": "S4", "d": 4.6, "v": 0.113}, {"age": "24h", "sample": "S4", "d": 6.7, "v": 0.091}, {"age": "24h", "sample": "S4", "d": 10.2, "v": 0.076}, {"age": "24h", "sample": "S4", "d": 17, "v": 0.064}, {"age": "24h", "sample": "S4", "d": 21.5, "v": 0.056}, {"age": "24h", "sample": "S4", "d": 25.8, "v": 0.039}, {"age": "24h", "sample": "S4", "d": 32.5, "v": 0.017}, {"age": "24h", "sample": "S4", "d": 43, "v": 0.011}, {"age": "24h", "sample": "S4", "d": 200, "v": 0.007}, {"age": "24h", "sample": "S4", "d": 100000, "v": 0.005},
      {"age": "24h", "sample": "S8", "d": 3.2, "v": 0.14}, {"age": "24h", "sample": "S8", "d": 4.6, "v": 0.118}, {"age": "24h", "sample": "S8", "d": 6.7, "v": 0.093}, {"age": "24h", "sample": "S8", "d": 10.2, "v": 0.076}, {"age": "24h", "sample": "S8", "d": 13.4, "v": 0.064}, {"age": "24h", "sample": "S8", "d": 17, "v": 0.049}, {"age": "24h", "sample": "S8", "d": 21.5, "v": 0.025}, {"age": "24h", "sample": "S8", "d": 27, "v": 0.01}, {"age": "24h", "sample": "S8", "d": 43, "v": 0.007}, {"age": "24h", "sample": "S8", "d": 100000, "v": 0.005},
      {"age": "28d", "sample": "S0", "d": 3.2, "v": 0.091}, {"age": "28d", "sample": "S0", "d": 4.6, "v": 0.078}, {"age": "28d", "sample": "S0", "d": 6.7, "v": 0.072}, {"age": "28d", "sample": "S0", "d": 10.2, "v": 0.068}, {"age": "28d", "sample": "S0", "d": 17, "v": 0.064}, {"age": "28d", "sample": "S0", "d": 25.8, "v": 0.056}, {"age": "28d", "sample": "S0", "d": 34, "v": 0.037}, {"age": "28d", "sample": "S0", "d": 43, "v": 0.022}, {"age": "28d", "sample": "S0", "d": 63, "v": 0.012}, {"age": "28d", "sample": "S0", "d": 110, "v": 0.007}, {"age": "28d", "sample": "S0", "d": 100000, "v": 0.005},
      {"age": "28d", "sample": "S0.5", "d": 3.2, "v": 0.094}, {"age": "28d", "sample": "S0.5", "d": 4.6, "v": 0.081}, {"age": "28d", "sample": "S0.5", "d": 6.7, "v": 0.075}, {"age": "28d", "sample": "S0.5", "d": 10.2, "v": 0.071}, {"age": "28d", "sample": "S0.5", "d": 17, "v": 0.068}, {"age": "28d", "sample": "S0.5", "d": 25.8, "v": 0.061}, {"age": "28d", "sample": "S0.5", "d": 34, "v": 0.047}, {"age": "28d", "sample": "S0.5", "d": 47.5, "v": 0.027}, {"age": "28d", "sample": "S0.5", "d": 69, "v": 0.015}, {"age": "28d", "sample": "S0.5", "d": 110, "v": 0.008}, {"age": "28d", "sample": "S0.5", "d": 100000, "v": 0.004},
      {"age": "28d", "sample": "S4", "d": 3.2, "v": 0.081}, {"age": "28d", "sample": "S4", "d": 4.6, "v": 0.066}, {"age": "28d", "sample": "S4", "d": 6.7, "v": 0.061}, {"age": "28d", "sample": "S4", "d": 10.2, "v": 0.056}, {"age": "28d", "sample": "S4", "d": 17, "v": 0.053}, {"age": "28d", "sample": "S4", "d": 25.8, "v": 0.047}, {"age": "28d", "sample": "S4", "d": 32.5, "v": 0.029}, {"age": "28d", "sample": "S4", "d": 43, "v": 0.012}, {"age": "28d", "sample": "S4", "d": 69, "v": 0.01}, {"age": "28d", "sample": "S4", "d": 1000, "v": 0.008}, {"age": "28d", "sample": "S4", "d": 100000, "v": 0.006},
      {"age": "28d", "sample": "S8", "d": 3.2, "v": 0.093}, {"age": "28d", "sample": "S8", "d": 4.6, "v": 0.074}, {"age": "28d", "sample": "S8", "d": 6.7, "v": 0.064}, {"age": "28d", "sample": "S8", "d": 10.2, "v": 0.059}, {"age": "28d", "sample": "S8", "d": 14.1, "v": 0.056}, {"age": "28d", "sample": "S8", "d": 17, "v": 0.039}, {"age": "28d", "sample": "S8", "d": 20.4, "v": 0.02}, {"age": "28d", "sample": "S8", "d": 27, "v": 0.01}, {"age": "28d", "sample": "S8", "d": 100, "v": 0.006}, {"age": "28d", "sample": "S8", "d": 100000, "v": 0.004}
    ],
    "bars": [
      {"age": "12h", "sample": "S0", "range": "＜10nm", "low": 0, "high": 2.9}, {"age": "12h", "sample": "S0", "range": "10～50nm", "low": 2.9, "high": 12.6}, {"age": "12h", "sample": "S0", "range": "＞50nm", "low": 12.6, "high": 31.4},
      {"age": "12h", "sample": "S0.5", "range": "＜10nm", "low": 0, "high": 4.6}, {"age": "12h", "sample": "S0.5", "range": "10～50nm", "low": 4.6, "high": 16.5}, {"age": "12h", "sample": "S0.5", "range": "＞50nm", "low": 16.5, "high": 30.3},
      {"age": "12h", "sample": "S4", "range": "＜10nm", "low": 0, "high": 8.8}, {"age": "12h", "sample": "S4", "range": "10～50nm", "low": 8.8, "high": 20.8}, {"age": "12h", "sample": "S4", "range": "＞50nm", "low": 20.8, "high": 25.6},
      {"age": "12h", "sample": "S8", "range": "＜10nm", "low": 0, "high": 12.2}, {"age": "12h", "sample": "S8", "range": "10～50nm", "low": 12.2, "high": 24.6}, {"age": "12h", "sample": "S8", "range": "＞50nm", "low": 24.6, "high": 26.9},
      {"age": "24h", "sample": "S0", "range": "＜10nm", "low": 0, "high": 4.6}, {"age": "24h", "sample": "S0", "range": "10～50nm", "low": 4.6, "high": 21.5}, {"age": "24h", "sample": "S0", "range": "＞50nm", "low": 21.5, "high": 27.0},
      {"age": "24h", "sample": "S0.5", "range": "＜10nm", "low": 0, "high": 5.9}, {"age": "24h", "sample": "S0.5", "range": "10～50nm", "low": 5.9, "high": 22.0}, {"age": "24h", "sample": "S0.5", "range": "＞50nm", "low": 22.0, "high": 27.6},
      {"age": "24h", "sample": "S4", "range": "＜10nm", "low": 0, "high": 9.1}, {"age": "24h", "sample": "S4", "range": "10～50nm", "low": 9.1, "high": 21.0}, {"age": "24h", "sample": "S4", "range": "＞50nm", "low": 21.0, "high": 23.0},
      {"age": "24h", "sample": "S8", "range": "＜10nm", "low": 0, "high": 12.2}, {"age": "24h", "sample": "S8", "range": "10～50nm", "low": 12.2, "high": 24.0}, {"age": "24h", "sample": "S8", "range": "＞50nm", "low": 24.0, "high": 25.5},
      {"age": "28d", "sample": "S0", "range": "＜10nm", "low": 0, "high": 3.8}, {"age": "28d", "sample": "S0", "range": "10～50nm", "low": 3.8, "high": 12.8}, {"age": "28d", "sample": "S0", "range": "＞50nm", "low": 12.8, "high": 16.9},
      {"age": "28d", "sample": "S0.5", "range": "＜10nm", "low": 0, "high": 3.5}, {"age": "28d", "sample": "S0.5", "range": "10～50nm", "low": 3.5, "high": 11.1}, {"age": "28d", "sample": "S0.5", "range": "＞50nm", "low": 11.1, "high": 16.9},
      {"age": "28d", "sample": "S4", "range": "＜10nm", "low": 0, "high": 4.7}, {"age": "28d", "sample": "S4", "range": "10～50nm", "low": 4.7, "high": 13.1}, {"age": "28d", "sample": "S4", "range": "＞50nm", "low": 13.1, "high": 15.4},
      {"age": "28d", "sample": "S8", "range": "＜10nm", "low": 0, "high": 6.3}, {"age": "28d", "sample": "S8", "range": "10～50nm", "low": 6.3, "high": 16.4}, {"age": "28d", "sample": "S8", "range": "＞50nm", "low": 16.4, "high": 17.9}
    ]
  },
  "vconcat": [
    {
      "hconcat": [
        {
          "title": {"text": "(a) Pore size distribution", "orient": "bottom", "offset": 63, "fontSize": 76, "anchor": "middle"},
          "spacing": 0,
          "bounds": "flush",
          "resolve": {"legend": {"color": "independent"}},
          "vconcat": [
            {
              "width": 1615, "height": 379,
              "layer": [
                {
                  "data": {"name": "psd"}, "transform": [{"filter": "datum.age == '12h'"}],
                  "mark": {"type": "line", "strokeWidth": 7, "interpolate": "monotone"},
                  "encoding": {
                    "x": {"field": "d", "type": "quantitative", "scale": {"type": "log", "domain": [1, 100000], "nice": false}, "axis": {"orient": "bottom", "values": [1, 10, 100, 1000, 10000, 100000], "labels": false, "tickSize": -20, "title": null}},
                    "y": {"field": "v", "type": "quantitative", "scale": {"domain": [-0.021, 0.324], "nice": false, "zero": false}, "axis": {"orient": "left", "values": [0, 0.1, 0.2, 0.3], "format": ".1f", "tickSize": -25, "labelPadding": 50, "labelFontSize": 64, "labelOffset": {"condition": [{"test": "datum.value == 0", "value": -7}, {"test": "datum.value > 0.29", "value": 7}], "value": 0}, "title": null}},
                    "color": {"field": "sample", "type": "nominal", "scale": {"domain": ["S0", "S0.5", "S4", "S8"], "range": ["#000000", "#ff0000", "#0000ff", "#ff00ff"]},
                      "legend": {"orient": "none", "legendX": 1294, "legendY": 12, "title": null, "symbolType": "M-3,0H3", "symbolSize": 3100, "symbolStrokeWidth": 7, "labelFontSize": 68, "labelOffset": 70, "rowPadding": 18}}
                  }
                },
                {
                  "data": {"name": "psd"}, "transform": [{"filter": "false"}],
                  "mark": "point",
                  "encoding": {
                    "x": {"field": "d", "type": "quantitative", "scale": {"type": "log", "domain": [1, 100000], "nice": false}, "axis": {"orient": "bottom", "values": [2, 3, 4, 5, 6, 7, 8, 9, 20, 30, 40, 50, 60, 70, 80, 90, 200, 300, 400, 500, 600, 700, 800, 900, 2000, 3000, 4000, 5000, 6000, 7000, 8000, 9000, 20000, 30000, 40000, 50000, 60000, 70000, 80000, 90000], "labels": false, "tickSize": -10, "title": null}},
                    "y": {"field": "v", "type": "quantitative", "scale": {"domain": [-0.021, 0.324], "nice": false, "zero": false}, "axis": {"orient": "left", "values": [0.05, 0.15, 0.25], "labels": false, "tickSize": -14, "title": null}}
                  }
                },
                {
                  "data": {"values": [{}]},
                  "mark": {"type": "text", "fontSize": 68, "font": "Liberation Serif", "align": "center", "baseline": "middle", "color": "black"},
                  "encoding": {
                    "x": {"datum": 207, "type": "quantitative", "scale": {"type": "log", "domain": [1, 100000], "nice": false}, "axis": null},
                    "y": {"datum": 0.277, "type": "quantitative", "scale": {"domain": [-0.021, 0.324], "nice": false, "zero": false}, "axis": null},
                    "text": {"value": "12h"}
                  }
                }
              ],
              "resolve": {"axis": {"x": "independent", "y": "independent"}}
            },
            {
              "width": 1615, "height": 379,
              "layer": [
                {
                  "data": {"name": "psd"}, "transform": [{"filter": "datum.age == '24h'"}],
                  "mark": {"type": "line", "strokeWidth": 7, "interpolate": "monotone"},
                  "encoding": {
                    "x": {"field": "d", "type": "quantitative", "scale": {"type": "log", "domain": [1, 100000], "nice": false}, "axis": {"orient": "bottom", "values": [1, 10, 100, 1000, 10000, 100000], "labels": false, "tickSize": -20, "title": null}},
                    "y": {"field": "v", "type": "quantitative", "scale": {"domain": [-0.021, 0.324], "nice": false, "zero": false}, "axis": {"orient": "left", "values": [0, 0.1, 0.2, 0.3], "format": ".1f", "tickSize": -25, "labelPadding": 50, "labelFontSize": 64, "labelOffset": {"condition": [{"test": "datum.value == 0", "value": -7}, {"test": "datum.value > 0.29", "value": 7}], "value": 0}, "title": "dV/dlogD pore volume (mL/g)", "titleFontSize": 68, "titlePadding": 34}},
                    "color": {"field": "sample", "type": "nominal", "scale": {"domain": ["S0", "S0.5", "S4", "S8"], "range": ["#000000", "#ff0000", "#0000ff", "#ff00ff"]}, "legend": null}
                  }
                },
                {
                  "data": {"name": "psd"}, "transform": [{"filter": "false"}],
                  "mark": "point",
                  "encoding": {
                    "x": {"field": "d", "type": "quantitative", "scale": {"type": "log", "domain": [1, 100000], "nice": false}, "axis": {"orient": "bottom", "values": [2, 3, 4, 5, 6, 7, 8, 9, 20, 30, 40, 50, 60, 70, 80, 90, 200, 300, 400, 500, 600, 700, 800, 900, 2000, 3000, 4000, 5000, 6000, 7000, 8000, 9000, 20000, 30000, 40000, 50000, 60000, 70000, 80000, 90000], "labels": false, "tickSize": -10, "title": null}},
                    "y": {"field": "v", "type": "quantitative", "scale": {"domain": [-0.021, 0.324], "nice": false, "zero": false}, "axis": {"orient": "left", "values": [0.05, 0.15, 0.25], "labels": false, "tickSize": -14, "title": null}}
                  }
                },
                {
                  "data": {"values": [{}]},
                  "mark": {"type": "text", "fontSize": 68, "font": "Liberation Serif", "align": "center", "baseline": "middle", "color": "black"},
                  "encoding": {
                    "x": {"datum": 207, "type": "quantitative", "scale": {"type": "log", "domain": [1, 100000], "nice": false}, "axis": null},
                    "y": {"datum": 0.277, "type": "quantitative", "scale": {"domain": [-0.021, 0.324], "nice": false, "zero": false}, "axis": null},
                    "text": {"value": "24h"}
                  }
                }
              ],
              "resolve": {"axis": {"x": "independent", "y": "independent"}}
            },
            {
              "width": 1615, "height": 379,
              "layer": [
                {
                  "data": {"name": "psd"}, "transform": [{"filter": "datum.age == '28d'"}],
                  "mark": {"type": "line", "strokeWidth": 7, "interpolate": "monotone"},
                  "encoding": {
                    "x": {"field": "d", "type": "quantitative", "scale": {"type": "log", "domain": [1, 100000], "nice": false}, "axis": {"orient": "bottom", "values": [1, 10, 100, 1000, 10000, 100000], "format": "d", "labelExpr": "datum.value == 10000 ? '10,000' : datum.value == 100000 ? '100,0000' : datum.label", "labelFontSize": 64, "labelPadding": 73, "tickSize": -20, "title": "Pore diameter(nm)", "titleFontSize": 68, "titlePadding": 15}},
                    "y": {"field": "v", "type": "quantitative", "scale": {"domain": [-0.021, 0.324], "nice": false, "zero": false}, "axis": {"orient": "left", "values": [0, 0.1, 0.2, 0.3], "format": ".1f", "tickSize": -25, "labelPadding": 50, "labelFontSize": 64, "labelOffset": {"condition": [{"test": "datum.value == 0", "value": -7}, {"test": "datum.value > 0.29", "value": 7}], "value": 0}, "title": null}},
                    "color": {"field": "sample", "type": "nominal", "scale": {"domain": ["S0", "S0.5", "S4", "S8"], "range": ["#000000", "#ff0000", "#0000ff", "#ff00ff"]}, "legend": null}
                  }
                },
                {
                  "data": {"name": "psd"}, "transform": [{"filter": "false"}],
                  "mark": "point",
                  "encoding": {
                    "x": {"field": "d", "type": "quantitative", "scale": {"type": "log", "domain": [1, 100000], "nice": false}, "axis": {"orient": "bottom", "values": [2, 3, 4, 5, 6, 7, 8, 9, 20, 30, 40, 50, 60, 70, 80, 90, 200, 300, 400, 500, 600, 700, 800, 900, 2000, 3000, 4000, 5000, 6000, 7000, 8000, 9000, 20000, 30000, 40000, 50000, 60000, 70000, 80000, 90000], "labels": false, "tickSize": -10, "title": null}},
                    "y": {"field": "v", "type": "quantitative", "scale": {"domain": [-0.021, 0.324], "nice": false, "zero": false}, "axis": {"orient": "left", "values": [0.05, 0.15, 0.25], "labels": false, "tickSize": -14, "title": null}}
                  }
                },
                {
                  "data": {"values": [{}]},
                  "mark": {"type": "text", "fontSize": 68, "font": "Liberation Serif", "align": "center", "baseline": "middle", "color": "black"},
                  "encoding": {
                    "x": {"datum": 207, "type": "quantitative", "scale": {"type": "log", "domain": [1, 100000], "nice": false}, "axis": null},
                    "y": {"datum": 0.277, "type": "quantitative", "scale": {"domain": [-0.021, 0.324], "nice": false, "zero": false}, "axis": null},
                    "text": {"value": "28d"}
                  }
                }
              ],
              "resolve": {"axis": {"x": "independent", "y": "independent"}}
            }
          ]
        },
        {
          "title": {"text": "(b) Pore volume", "orient": "bottom", "offset": 86, "fontSize": 76, "anchor": "middle"},
          "spacing": 0,
          "bounds": "flush",
          "resolve": {"legend": {"color": "independent"}},
          "vconcat": [
            {
              "width": 1587, "height": 373,
              "layer": [
                {
                  "data": {"name": "cum"}, "transform": [{"filter": "datum.age == '12h'"}],
                  "mark": {"type": "line", "strokeWidth": 7, "interpolate": "monotone"},
                  "encoding": {
                    "x": {"field": "d", "type": "quantitative", "scale": {"type": "log", "domain": [1, 100000], "nice": false}, "axis": {"orient": "bottom", "values": [1, 10, 100, 1000, 10000, 100000], "labels": false, "tickSize": -20, "title": null}},
                    "y": {"field": "v", "type": "quantitative", "scale": {"domain": [0, 0.19], "nice": false}, "axis": {"orient": "left", "values": [0, 0.05, 0.1, 0.15], "format": ".2f", "tickSize": -25, "labelPadding": 50, "labelFontSize": 64, "title": null}},
                    "color": {"field": "sample", "type": "nominal", "scale": {"domain": ["S0", "S0.5", "S4", "S8"], "range": ["#000000", "#ff0000", "#0000ff", "#ff00ff"]},
                      "legend": {"orient": "none", "legendX": 1277, "legendY": 17, "title": null, "symbolType": "M-3,0H3", "symbolSize": 3100, "symbolStrokeWidth": 7, "labelFontSize": 68, "labelOffset": 70, "rowPadding": 18}}
                  }
                },
                {
                  "data": {"name": "cum"}, "transform": [{"filter": "false"}],
                  "mark": "point",
                  "encoding": {
                    "x": {"field": "d", "type": "quantitative", "scale": {"type": "log", "domain": [1, 100000], "nice": false}, "axis": {"orient": "bottom", "values": [2, 3, 4, 5, 6, 7, 8, 9, 20, 30, 40, 50, 60, 70, 80, 90, 200, 300, 400, 500, 600, 700, 800, 900, 2000, 3000, 4000, 5000, 6000, 7000, 8000, 9000, 20000, 30000, 40000, 50000, 60000, 70000, 80000, 90000], "labels": false, "tickSize": -10, "title": null}},
                    "y": {"field": "v", "type": "quantitative", "scale": {"domain": [0, 0.19], "nice": false}, "axis": {"orient": "left", "values": [0.025, 0.075, 0.125, 0.175], "labels": false, "tickSize": -14, "title": null}}
                  }
                },
                {
                  "data": {"values": [{}]},
                  "mark": {"type": "text", "fontSize": 68, "font": "Liberation Serif", "align": "center", "baseline": "middle", "color": "black"},
                  "encoding": {
                    "x": {"datum": 208, "type": "quantitative", "scale": {"type": "log", "domain": [1, 100000], "nice": false}, "axis": null},
                    "y": {"datum": 0.163, "type": "quantitative", "scale": {"domain": [0, 0.19], "nice": false}, "axis": null},
                    "text": {"value": "12h"}
                  }
                }
              ],
              "resolve": {"axis": {"x": "independent", "y": "independent"}}
            },
            {
              "width": 1587, "height": 373,
              "layer": [
                {
                  "data": {"name": "cum"}, "transform": [{"filter": "datum.age == '24h'"}],
                  "mark": {"type": "line", "strokeWidth": 7, "interpolate": "monotone"},
                  "encoding": {
                    "x": {"field": "d", "type": "quantitative", "scale": {"type": "log", "domain": [1, 100000], "nice": false}, "axis": {"orient": "bottom", "values": [1, 10, 100, 1000, 10000, 100000], "labels": false, "tickSize": -20, "title": null}},
                    "y": {"field": "v", "type": "quantitative", "scale": {"domain": [0, 0.19], "nice": false}, "axis": {"orient": "left", "values": [0, 0.05, 0.1, 0.15], "format": ".2f", "tickSize": -25, "labelPadding": 50, "labelFontSize": 64, "title": "Cumulative pore volume ( mL/g )", "titleFontSize": 68, "titlePadding": 12}},
                    "color": {"field": "sample", "type": "nominal", "scale": {"domain": ["S0", "S0.5", "S4", "S8"], "range": ["#000000", "#ff0000", "#0000ff", "#ff00ff"]}, "legend": null}
                  }
                },
                {
                  "data": {"name": "cum"}, "transform": [{"filter": "false"}],
                  "mark": "point",
                  "encoding": {
                    "x": {"field": "d", "type": "quantitative", "scale": {"type": "log", "domain": [1, 100000], "nice": false}, "axis": {"orient": "bottom", "values": [2, 3, 4, 5, 6, 7, 8, 9, 20, 30, 40, 50, 60, 70, 80, 90, 200, 300, 400, 500, 600, 700, 800, 900, 2000, 3000, 4000, 5000, 6000, 7000, 8000, 9000, 20000, 30000, 40000, 50000, 60000, 70000, 80000, 90000], "labels": false, "tickSize": -10, "title": null}},
                    "y": {"field": "v", "type": "quantitative", "scale": {"domain": [0, 0.19], "nice": false}, "axis": {"orient": "left", "values": [0.025, 0.075, 0.125, 0.175], "labels": false, "tickSize": -14, "title": null}}
                  }
                },
                {
                  "data": {"values": [{}]},
                  "mark": {"type": "text", "fontSize": 68, "font": "Liberation Serif", "align": "center", "baseline": "middle", "color": "black"},
                  "encoding": {
                    "x": {"datum": 208, "type": "quantitative", "scale": {"type": "log", "domain": [1, 100000], "nice": false}, "axis": null},
                    "y": {"datum": 0.163, "type": "quantitative", "scale": {"domain": [0, 0.19], "nice": false}, "axis": null},
                    "text": {"value": "24h"}
                  }
                }
              ],
              "resolve": {"axis": {"x": "independent", "y": "independent"}}
            },
            {
              "width": 1587, "height": 373,
              "layer": [
                {
                  "data": {"name": "cum"}, "transform": [{"filter": "datum.age == '28d'"}],
                  "mark": {"type": "line", "strokeWidth": 7, "interpolate": "monotone"},
                  "encoding": {
                    "x": {"field": "d", "type": "quantitative", "scale": {"type": "log", "domain": [1, 100000], "nice": false}, "axis": {"orient": "bottom", "values": [1, 10, 100, 1000, 10000, 100000], "format": "d", "labelExpr": "datum.value == 10000 ? '10,000' : datum.value == 100000 ? '100,0000' : datum.label", "labelFontSize": 64, "labelPadding": 67, "tickSize": -20, "title": "Pore diameter(nm)", "titleFontSize": 68, "titlePadding": 15}},
                    "y": {"field": "v", "type": "quantitative", "scale": {"domain": [0, 0.19], "nice": false}, "axis": {"orient": "left", "values": [0, 0.05, 0.1, 0.15], "format": ".2f", "tickSize": -25, "labelPadding": 50, "labelFontSize": 64, "title": null}},
                    "color": {"field": "sample", "type": "nominal", "scale": {"domain": ["S0", "S0.5", "S4", "S8"], "range": ["#000000", "#ff0000", "#0000ff", "#ff00ff"]}, "legend": null}
                  }
                },
                {
                  "data": {"name": "cum"}, "transform": [{"filter": "false"}],
                  "mark": "point",
                  "encoding": {
                    "x": {"field": "d", "type": "quantitative", "scale": {"type": "log", "domain": [1, 100000], "nice": false}, "axis": {"orient": "bottom", "values": [2, 3, 4, 5, 6, 7, 8, 9, 20, 30, 40, 50, 60, 70, 80, 90, 200, 300, 400, 500, 600, 700, 800, 900, 2000, 3000, 4000, 5000, 6000, 7000, 8000, 9000, 20000, 30000, 40000, 50000, 60000, 70000, 80000, 90000], "labels": false, "tickSize": -10, "title": null}},
                    "y": {"field": "v", "type": "quantitative", "scale": {"domain": [0, 0.19], "nice": false}, "axis": {"orient": "left", "values": [0.025, 0.075, 0.125, 0.175], "labels": false, "tickSize": -14, "title": null}}
                  }
                },
                {
                  "data": {"values": [{}]},
                  "mark": {"type": "text", "fontSize": 68, "font": "Liberation Serif", "align": "center", "baseline": "middle", "color": "black"},
                  "encoding": {
                    "x": {"datum": 208, "type": "quantitative", "scale": {"type": "log", "domain": [1, 100000], "nice": false}, "axis": null},
                    "y": {"datum": 0.163, "type": "quantitative", "scale": {"domain": [0, 0.19], "nice": false}, "axis": null},
                    "text": {"value": "28d"}
                  }
                }
              ],
              "resolve": {"axis": {"x": "independent", "y": "independent"}}
            }
          ]
        }
      ],
      "spacing": 109
    },
    {
      "hconcat": [
        {
          "width": 24, "height": 10,
          "view": {"stroke": null},
          "data": {"values": []},
          "mark": "point",
          "encoding": {}
        },
        {
          "width": 1757, "height": 1310,
          "title": {"text": "(c) Pore volume distribution", "orient": "bottom", "offset": 38, "fontSize": 78, "anchor": "middle"},
          "data": {"name": "bars"},
          "layer": [
            {
              "mark": {"type": "bar", "stroke": "black", "strokeWidth": 5},
              "encoding": {
                "x": {"field": "age", "type": "nominal", "sort": ["12h", "24h", "28d"], "scale": {"paddingInner": 0, "paddingOuter": 0}, "axis": {"orient": "bottom", "labelAngle": 0, "labelFontSize": 76, "labelPadding": 44, "tickSize": -22, "tickWidth": 5, "title": "Age", "titleFontSize": 80, "titlePadding": 63}},
                "xOffset": {"field": "sample", "type": "nominal", "sort": ["S0", "S0.5", "S4", "S8"], "scale": {"paddingInner": 0.25, "paddingOuter": 0.625, "align": 0.91}},
                "y": {"field": "low", "type": "quantitative", "scale": {"domain": [0, 40], "nice": false}, "axis": {"orient": "left", "values": [0, 5, 10, 15, 20, 25, 30, 35, 40], "tickSize": -28, "tickWidth": 5, "labelPadding": 55, "labelFontSize": 76, "title": "Porosity (%)", "titleFontSize": 80, "titlePadding": 51, "titleY": 713}},
                "y2": {"field": "high"},
                "fill": {"field": "range", "type": "nominal", "scale": {"domain": ["＞50nm", "10～50nm", "＜10nm"], "range": ["#ffffff", "#c0c0c0", "#808080"]},
                  "legend": {"orient": "none", "legendX": 69, "legendY": -27, "direction": "horizontal", "title": null, "symbolType": "M-1,-0.487H1V0.487H-1Z", "symbolSize": 37249, "symbolStrokeColor": "black", "symbolStrokeWidth": 5, "labelFontSize": 80, "labelOffset": 20, "columnPadding": 12}}
              }
            },
            {
              "transform": [{"filter": "datum.sample != 'S0'"}],
              "mark": {"type": "bar", "strokeWidth": 0, "fill": {"expr": "{gradient: 'linear', x1: 0, y1: 0, x2: (datum.sample == 'S8' ? 527 : datum.sample == 'S4' ? 528 : 608) * 88 / (7744 + pow((datum.high - datum.low) * 32.75, 2)), y2: (datum.sample == 'S8' ? 527 : datum.sample == 'S4' ? 528 : 608) * (datum.high - datum.low) * 32.75 / (7744 + pow((datum.high - datum.low) * 32.75, 2)), stops: datum.sample == 'S8' ? hatch8 : datum.sample == 'S4' ? hatch4 : hatch05}"}},
              "encoding": {
                "x": {"field": "age", "type": "nominal", "sort": ["12h", "24h", "28d"], "scale": {"paddingInner": 0, "paddingOuter": 0}, "axis": {"orient": "bottom", "tickBand": "extent", "labels": false, "tickSize": -22, "tickWidth": 5, "title": null}},
                "xOffset": {"field": "sample", "type": "nominal", "sort": ["S0", "S0.5", "S4", "S8"], "scale": {"paddingInner": 0.25, "paddingOuter": 0.625, "align": 0.91}},
                "y": {"field": "low", "type": "quantitative", "scale": {"domain": [0, 40], "nice": false}, "axis": {"orient": "left", "values": [2.5, 7.5, 12.5, 17.5, 22.5, 27.5, 32.5, 37.5], "labels": false, "tickSize": -16, "tickWidth": 5, "title": null}},
                "y2": {"field": "high"}
              }
            },
            {
              "transform": [{"filter": "false"}],
              "mark": {"type": "point", "filled": false, "color": "black", "strokeWidth": 3, "opacity": 1},
              "encoding": {
                "shape": {"field": "sample", "type": "nominal", "scale": {"domain": ["S0", "S0.5", "S4", "S8"], "range": [
                  "M-1,-0.487H1V0.487H-1Z",
                  "M-1,-0.487H1V0.487H-1ZM-1,0.191L-0.61,-0.487M-0.84,0.487L-0.28,-0.487M-0.51,0.487L0.05,-0.487M-0.18,0.487L0.38,-0.487M0.15,0.487L0.71,-0.487M0.48,0.487L1,-0.418M0.81,0.487L1,0.157",
                  "M-1,-0.487H1V0.487H-1ZM-1,-0.278L-0.88,-0.487M-1,0.104L-0.66,-0.487M-1,0.487L-0.44,-0.487M-0.78,0.487L-0.22,-0.487M-0.56,0.487L0,-0.487M-0.34,0.487L0.22,-0.487M-0.12,0.487L0.44,-0.487M0.1,0.487L0.66,-0.487M0.32,0.487L0.88,-0.487M0.54,0.487L1,-0.313M0.76,0.487L1,0.069",
                  "M-1,-0.487H1V0.487H-1ZM-1,-0.348L-0.92,-0.487M-1,-0.07L-0.76,-0.487M-1,0.209L-0.6,-0.487M-1,0.487L-0.44,-0.487M-0.84,0.487L-0.28,-0.487M-0.68,0.487L-0.12,-0.487M-0.52,0.487L0.04,-0.487M-0.36,0.487L0.2,-0.487M-0.2,0.487L0.36,-0.487M-0.04,0.487L0.52,-0.487M0.12,0.487L0.68,-0.487M0.28,0.487L0.84,-0.487M0.44,0.487L1,-0.487M0.6,0.487L1,-0.209M0.76,0.487L1,0.069M0.92,0.487L1,0.348"
                ]},
                  "legend": {"orient": "none", "legendX": 69, "legendY": 93, "direction": "horizontal", "gridAlign": "all", "title": null, "symbolSize": 37249, "symbolStrokeColor": "black", "symbolStrokeWidth": 3, "labelFontSize": 80, "labelOffset": 20, "columnPadding": 51}}
              }
            }
          ],
          "resolve": {"axis": {"x": "independent", "y": "independent"}}
        }
      ],
      "spacing": -216,
      "resolve": {"legend": {"fill": "independent", "shape": "independent"}}
    }
  ],
  "spacing": 27,
  "center": true,
  "resolve": {"legend": {"fill": "independent", "shape": "independent", "color": "independent"}}
}
